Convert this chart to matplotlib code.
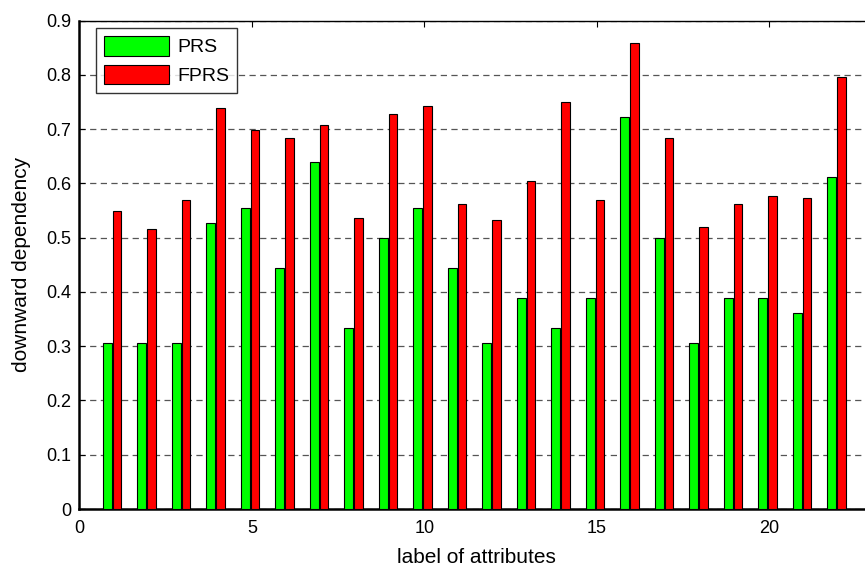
import matplotlib
matplotlib.use("Agg")
import matplotlib.pyplot as plt
import numpy as np

# Downward dependency of each attribute under PRS and FPRS
attributes = list(range(1, 23))
prs = [0.3056, 0.3056, 0.3056, 0.5278, 0.5556, 0.4444, 0.6389, 0.3333,
       0.5000, 0.5556, 0.4444, 0.3056, 0.3889, 0.3333, 0.3889, 0.7222,
       0.5000, 0.3056, 0.3889, 0.3889, 0.3611, 0.6111]
fprs = [0.550, 0.517, 0.570, 0.740, 0.699, 0.683, 0.707, 0.537,
        0.728, 0.743, 0.562, 0.532, 0.604, 0.750, 0.570, 0.859,
        0.683, 0.519, 0.562, 0.576, 0.573, 0.797]
y_ticks = [0, 0.1, 0.2, 0.3, 0.4, 0.5, 0.6, 0.7, 0.8, 0.9]
x_ticks = [0, 5, 10, 15, 20]

plt.rcParams['font.family'] = ['Liberation Sans', 'DejaVu Sans']

fig = plt.figure(figsize=(8.65, 5.66), dpi=100)
# axes run a little past the right side of the canvas
ax = fig.add_axes([0.0917, 0.1007, 0.9173, 0.8627])

x = np.array(attributes)
width = 0.25
ax.bar(x - 0.19, prs, width, color='#00ff00', edgecolor='black',
       linewidth=0.8, label='PRS', zorder=3)
ax.bar(x + 0.09, fprs, width, color='#ff0000', edgecolor='black',
       linewidth=0.8, label='FPRS', zorder=3)

ax.set_xlim(0, 23)
ax.set_ylim(0, 0.9)
ax.set_xticks(x_ticks)
ax.set_yticks(y_ticks)
ax.set_yticklabels([('%g' % v) for v in y_ticks])
ax.tick_params(direction='in', top=True, right=True, length=4,
               labelsize=13, width=0.8)
ax.tick_params(axis='y', pad=6)
ax.tick_params(axis='x', pad=8)

ax.yaxis.grid(True, linestyle=(0, (5, 3.5)), color='#555555', linewidth=0.9,
              zorder=0)
ax.set_axisbelow(True)

for side in ['left', 'bottom']:
    ax.spines[side].set_linewidth(1.8)
for side in ['top', 'right']:
    ax.spines[side].set_linewidth(1.0)

ax.set_xlabel('label of attributes', fontsize=15, labelpad=8)
ax.set_ylabel('downward dependency', fontsize=15, labelpad=11)

leg = ax.legend(loc='upper left', bbox_to_anchor=(0.0207, 0.9844),
                borderaxespad=0, fontsize=14, frameon=True, fancybox=False,
                edgecolor='black', handlelength=3.35, handleheight=1.17,
                borderpad=0.4, labelspacing=0.43, handletextpad=0.45)
leg.get_frame().set_linewidth(1.0)

fig.savefig('out.png', dpi=100)
